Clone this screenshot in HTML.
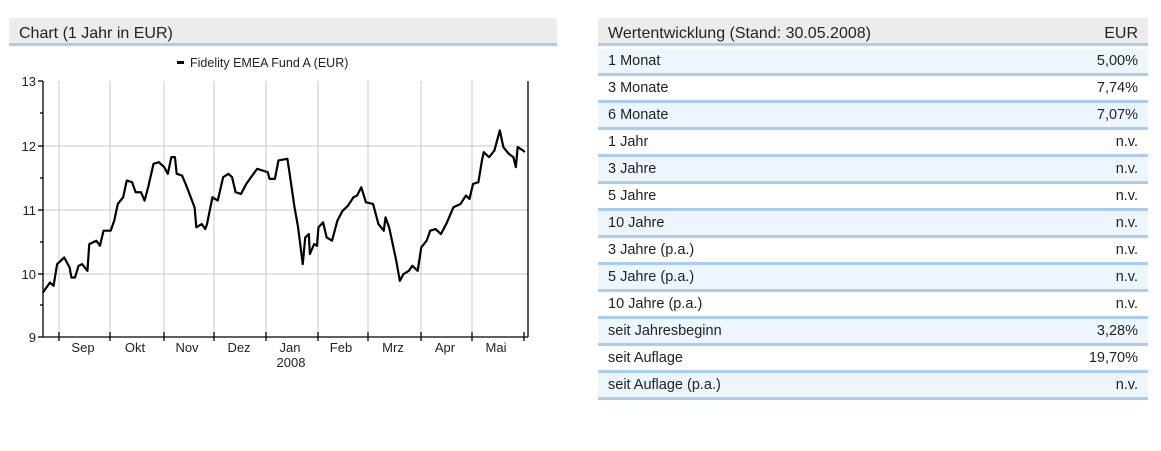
<!DOCTYPE html>
<html><head><meta charset="utf-8"><style>
body{margin:0;width:1161px;height:451px;background:#fff;font-family:"Liberation Sans",Arial,sans-serif;position:relative;overflow:hidden}
.hdr{position:absolute;background:#ececec;border-bottom:3px solid #a9cdf0;color:#222;font-size:16px}
table{position:absolute;left:598px;top:49px;width:550px;border-collapse:collapse;font-size:14.5px;color:#222}
td{height:24px;border-bottom:3px solid #a9cdf0;padding:0 10px;line-height:24px}
td.r{text-align:right}
tr:nth-child(odd) td{background:#eef6fd}
</style></head><body>
<div class="hdr" style="left:9px;top:18px;height:28px;line-height:31px;padding-left:10px;box-sizing:border-box;width:548px">Chart (1 Jahr in EUR)</div>
<div class="hdr" style="left:598px;top:18px;width:550px;height:28px;line-height:31px;padding:0 10px;box-sizing:border-box"><span>Wertentwicklung (Stand: 30.05.2008)</span><span style="float:right">EUR</span></div>
<table>
<tr><td>1 Monat</td><td class="r">5,00%</td></tr>
<tr><td>3 Monate</td><td class="r">7,74%</td></tr>
<tr><td>6 Monate</td><td class="r">7,07%</td></tr>
<tr><td>1 Jahr</td><td class="r">n.v.</td></tr>
<tr><td>3 Jahre</td><td class="r">n.v.</td></tr>
<tr><td>5 Jahre</td><td class="r">n.v.</td></tr>
<tr><td>10 Jahre</td><td class="r">n.v.</td></tr>
<tr><td>3 Jahre (p.a.)</td><td class="r">n.v.</td></tr>
<tr><td>5 Jahre (p.a.)</td><td class="r">n.v.</td></tr>
<tr><td>10 Jahre (p.a.)</td><td class="r">n.v.</td></tr>
<tr><td>seit Jahresbeginn</td><td class="r">3,28%</td></tr>
<tr><td>seit Auflage</td><td class="r">19,70%</td></tr>
<tr><td>seit Auflage (p.a.)</td><td class="r">n.v.</td></tr>
</table>
<svg width="560" height="451" style="position:absolute;left:0;top:0" font-family="Liberation Sans,Arial,sans-serif" font-size="13" fill="#222">
<rect x="177" y="61" width="7" height="3" fill="#000"/>
<text x="190" y="67" font-size="12.5">Fidelity EMEA Fund A (EUR)</text>
<g stroke="#c8c8c8" stroke-width="1">
<line x1="43" y1="146" x2="528" y2="146"/><line x1="43" y1="210" x2="528" y2="210"/><line x1="43" y1="274" x2="528" y2="274"/>
<line x1="59" y1="81" x2="59" y2="337"/><line x1="110" y1="81" x2="110" y2="337"/><line x1="164" y1="81" x2="164" y2="337"/><line x1="214" y1="81" x2="214" y2="337"/><line x1="266" y1="81" x2="266" y2="337"/><line x1="318" y1="81" x2="318" y2="337"/><line x1="368" y1="81" x2="368" y2="337"/><line x1="421" y1="81" x2="421" y2="337"/><line x1="472" y1="81" x2="472" y2="337"/>
</g>
<g stroke="#000" stroke-width="1.3">
<line x1="43" y1="81" x2="43" y2="337"/><line x1="528" y1="81" x2="528" y2="337"/><line x1="43" y1="337" x2="528" y2="337"/>
<line x1="38" y1="81" x2="43" y2="81"/><line x1="38" y1="146" x2="43" y2="146"/><line x1="38" y1="210" x2="43" y2="210"/><line x1="38" y1="274" x2="43" y2="274"/><line x1="38" y1="337" x2="43" y2="337"/>
<line x1="40" y1="113" x2="43" y2="113"/><line x1="40" y1="178" x2="43" y2="178"/><line x1="40" y1="242" x2="43" y2="242"/><line x1="40" y1="305" x2="43" y2="305"/>
<line x1="59" y1="332" x2="59" y2="341"/><line x1="110" y1="332" x2="110" y2="341"/><line x1="164" y1="332" x2="164" y2="341"/><line x1="214" y1="332" x2="214" y2="341"/><line x1="266" y1="332" x2="266" y2="341"/><line x1="318" y1="332" x2="318" y2="341"/><line x1="368" y1="332" x2="368" y2="341"/><line x1="421" y1="332" x2="421" y2="341"/><line x1="472" y1="332" x2="472" y2="341"/><line x1="524" y1="332" x2="524" y2="341"/>
</g>
<g text-anchor="end"><text x="36" y="86">13</text><text x="36" y="151">12</text><text x="36" y="215">11</text><text x="36" y="279">10</text><text x="36" y="342">9</text></g>
<g text-anchor="middle"><text x="83" y="352">Sep</text><text x="135" y="352">Okt</text><text x="187" y="352">Nov</text><text x="239" y="352">Dez</text><text x="290" y="352">Jan</text><text x="291" y="367">2008</text><text x="341" y="352">Feb</text><text x="393" y="352">Mrz</text><text x="445" y="352">Apr</text><text x="496" y="352">Mai</text></g>
<g transform="translate(0,10) scale(0.357,0.3344)">
<polyline fill="none" stroke="#000" stroke-width="2.2" vector-effect="non-scaling-stroke" stroke-linejoin="round" points="120,845 140,815 150,825 160,760 180,740 195,770 200,800 210,800 220,765 230,760 245,780 250,700 270,690 280,705 290,660 310,660 320,630 330,580 345,560 355,510 370,515 380,545 395,545 405,570 415,530 430,460 445,455 460,470 470,490 480,440 490,440 495,490 510,495 520,520 545,590 550,650 565,640 575,655 580,640 595,560 610,570 625,500 640,490 650,500 660,545 675,550 690,520 720,475 735,480 750,485 755,505 770,505 780,450 805,445 810,480 825,590 835,650 848,760 855,680 865,670 868,730 880,700 888,705 892,650 905,635 915,680 930,690 945,630 960,600 975,585 990,560 1000,555 1012,530 1025,575 1045,580 1060,640 1075,660 1080,620 1090,650 1100,700 1110,750 1120,810 1130,790 1145,780 1155,765 1170,780 1180,710 1195,690 1205,660 1220,655 1235,670 1250,640 1270,590 1290,580 1305,555 1315,565 1325,520 1340,515 1350,450 1355,425 1370,440 1385,420 1400,360 1410,410 1425,430 1438,440 1445,470 1450,410 1465,420 1470,425"/>
</g>
</svg>
</body></html>
